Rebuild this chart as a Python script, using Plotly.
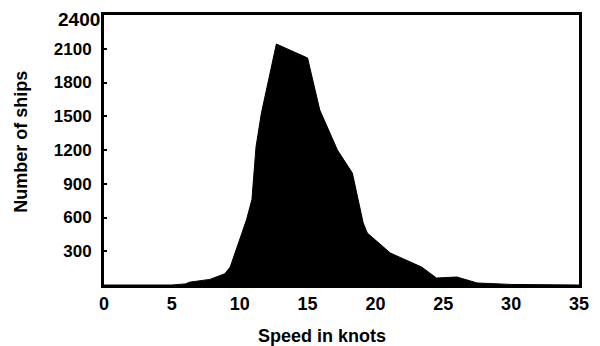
import plotly.graph_objects as go

speed_knots = [0, 5, 6, 6.3, 7.8, 8.9, 9.3, 10, 10.5, 10.9, 11.2, 11.6, 12.7, 15.0, 15.9,
               17.2, 18.3, 19.1, 19.4, 21.1, 23.4, 24.5, 26.0, 27.5, 30.0, 35]
num_ships = [0, 0, 10, 25, 50, 100, 160, 400, 580, 760, 1227, 1529, 2142, 2018, 1555,
             1200, 995, 551, 462, 284, 160, 62, 71, 18, 5, 0]

x_ticks = [0, 5, 10, 15, 20, 25, 30, 35]
y_ticks = [300, 600, 900, 1200, 1500, 1800, 2100]
y_top = 2400
x_title = "Speed in knots"
y_title = "Number of ships"

FONT = "Liberation Sans, Arial, sans-serif"

fig = go.Figure()
fig.add_trace(go.Scatter(
    x=speed_knots, y=num_ships, mode="lines",
    line=dict(color="black", width=1),
    fill="tozeroy", fillcolor="black",
    hoverinfo="x+y", showlegend=False,
))

fig.update_layout(
    width=600, height=346,
    margin=dict(l=96, r=29, t=7, b=69),
    paper_bgcolor="white", plot_bgcolor="white",
    font=dict(family=FONT, color="black", size=17, weight="bold"),
    annotations=[
        dict(text=x_title, xref="paper", yref="paper", x=0.459, y=-0.19,
             xanchor="center", yanchor="middle", showarrow=False,
             font=dict(size=18, family=FONT, weight="bold", color="black")),
        dict(text=y_title, xref="paper", yref="paper", x=-0.175, y=0.53,
             xanchor="center", yanchor="middle", showarrow=False, textangle=-90,
             font=dict(size=18, family=FONT, weight="bold", color="black")),
        dict(text=str(y_top), xref="paper", yref="y", x=0, y=y_top, xshift=-3, yshift=7,
             xanchor="right", yanchor="top", showarrow=False, borderpad=0,
             font=dict(size=19, family=FONT, weight="bold", color="black")),
    ],
)
fig.update_xaxes(
    range=[0, 35], tickvals=x_ticks, ticktext=[str(v) for v in x_ticks],
    showgrid=False, zeroline=False, automargin=False,
    showline=True, linecolor="black", linewidth=3, mirror=True,
    ticks="", ticklabelstandoff=0,
    tickfont=dict(size=18, family=FONT, weight="bold", color="black"),
)
fig.update_yaxes(
    range=[0, y_top], tickvals=y_ticks, ticktext=[str(v) for v in y_ticks],
    showgrid=False, zeroline=False, automargin=False,
    showline=True, linecolor="black", linewidth=3, mirror=True,
    ticks="inside", ticklen=3, tickwidth=2, tickcolor="black",
    ticklabelstandoff=6,
    tickfont=dict(size=17, family=FONT, weight="bold", color="black"),
)

fig.write_html("out.html")
